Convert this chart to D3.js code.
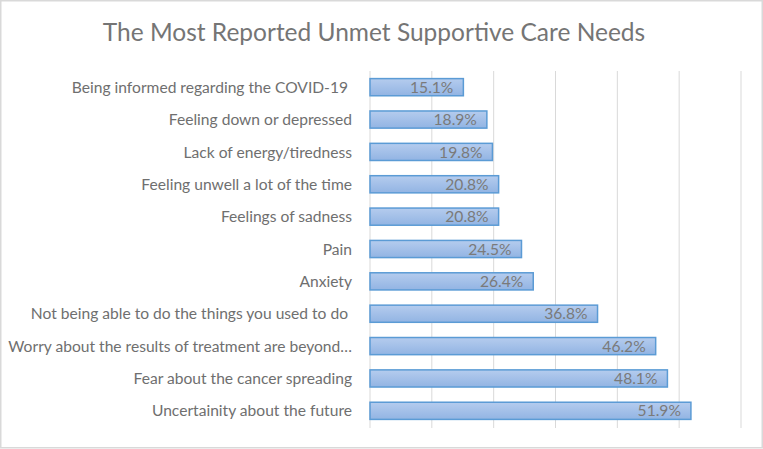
<!DOCTYPE html>
<html><head><meta charset="utf-8">
<script src="https://cdn.jsdelivr.net/npm/d3@7"></script>
<style>
html,body{margin:0;padding:0;background:#fff;}
svg{display:block;font-family:Lato, "Liberation Sans", sans-serif;}
</style></head><body>
<svg id="c" width="763" height="449"></svg>
<script>
const title = "The Most Reported Unmet Supportive Care Needs";
const categories = [
  "Being informed regarding the COVID-19 ",
  "Feeling down or depressed",
  "Lack of energy/tiredness",
  "Feeling unwell a lot of the time",
  "Feelings of sadness",
  "Pain",
  "Anxiety",
  "Not being able to do the things you used to do ",
  "Worry about the results of treatment are beyond…",
  "Fear about the cancer spreading",
  "Uncertainity about the future"
];
const values = [15.1, 18.9, 19.8, 20.8, 20.8, 24.5, 26.4, 36.8, 46.2, 48.1, 51.9];
const xTicks = [0, 10, 20, 30, 40, 50, 60];

const svg = d3.select("#c");
const W = 763, H = 449;
svg.append("rect").attr("x",0.75).attr("y",0.75).attr("width",W-1.5).attr("height",H-2)
  .attr("fill","#fff").attr("stroke","#d9d9d9").attr("stroke-width",1.5);

const defs = svg.append("defs");
const g = defs.append("linearGradient").attr("id","bg").attr("x1",0).attr("y1",0).attr("x2",0).attr("y2",1);
g.append("stop").attr("offset","0%").attr("stop-color","#b5ccee");
g.append("stop").attr("offset","100%").attr("stop-color","#92b4e3");

const x = d3.scaleLinear().domain([0,60]).range([370,741]);
const y = d3.scaleBand().domain(categories).range([71,427]).paddingInner(0.47).paddingOuter(0.235);

svg.append("g").selectAll("line").data(xTicks).join("line")
  .attr("x1",d=>x(d)).attr("x2",d=>x(d)).attr("y1",71).attr("y2",428)
  .attr("stroke","#d9d9d9").attr("stroke-width",1);

svg.append("text").attr("x",374).attr("y",41).attr("text-anchor","middle")
  .attr("fill","#757575").attr("font-size",24.5).text(title);

svg.append("g").selectAll("rect").data(values).join("rect")
  .attr("x",x(0)).attr("y",(d,i)=>y(categories[i]))
  .attr("width",d=>x(d)-x(0)).attr("height",y.bandwidth())
  .attr("fill","url(#bg)").attr("stroke","#5b9bd5").attr("stroke-width",1.5);

svg.append("g").selectAll("text").data(values).join("text")
  .attr("x",d=>x(d)-10).attr("y",(d,i)=>y(categories[i])+y.bandwidth()/2)
  .attr("dy","0.36em").attr("text-anchor","end").attr("fill","#7a7a7a").attr("font-size",15.6)
  .text(d=>d.toFixed(1)+"%");

svg.append("g").selectAll("text").data(categories).join("text")
  .attr("x",352).attr("y",d=>y(d)+y.bandwidth()/2).attr("dy","0.36em")
  .attr("text-anchor","end").attr("fill","#6f6f6f").attr("font-size",15.6)
  .style("white-space","pre").text(d=>d);
</script>
</body></html>
